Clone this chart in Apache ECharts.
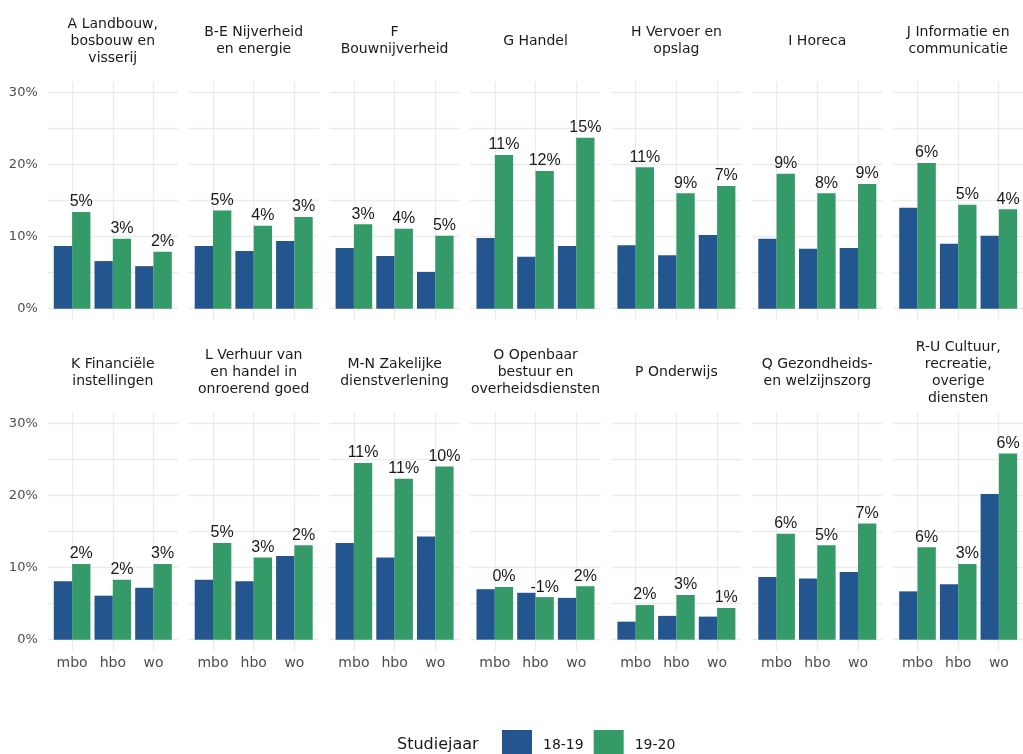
<!DOCTYPE html>
<html>
<head>
<meta charset="utf-8">
<script src="https://cdn.jsdelivr.net/npm/echarts@6/dist/echarts.min.js"></script>
<style>
html,body{margin:0;padding:0;background:#fff;}
#chart{width:1023px;height:754px;}
</style>
</head>
<body>
<div id="chart"></div>
<script>
// ---- data ----
const categories = ['mbo', 'hbo', 'wo'];
const sectors = [
  'A Landbouw,\nbosbouw en\nvisserij',
  'B-E Nijverheid\nen energie',
  'F\nBouwnijverheid',
  'G Handel',
  'H Vervoer en\nopslag',
  'I Horeca',
  'J Informatie en\ncommunicatie',
  'K Financiële\ninstellingen',
  'L Verhuur van\nen handel in\nonroerend goed',
  'M-N Zakelijke\ndienstverlening',
  'O Openbaar\nbestuur en\noverheidsdiensten',
  'P Onderwijs',
  'Q Gezondheids-\nen welzijnszorg',
  'R-U Cultuur,\nrecreatie,\noverige\ndiensten'
];
const years = ['18-19', '19-20'];
const values1819 = [
  [8.7, 6.6, 5.9],
  [8.7, 8.0, 9.4],
  [8.4, 7.3, 5.1],
  [9.8, 7.2, 8.7],
  [8.8, 7.4, 10.2],
  [9.7, 8.3, 8.4],
  [14.0, 9.0, 10.1],
  [8.1, 6.1, 7.2],
  [8.3, 8.1, 11.6],
  [13.4, 11.4, 14.3],
  [7.0, 6.5, 5.8],
  [2.5, 3.3, 3.2],
  [8.7, 8.5, 9.4],
  [6.7, 7.7, 20.2]
];
const values1920 = [
  [13.4, 9.7, 7.9],
  [13.6, 11.5, 12.7],
  [11.7, 11.1, 10.1],
  [21.3, 19.1, 23.7],
  [19.6, 16.0, 17.0],
  [18.7, 16.0, 17.3],
  [20.2, 14.4, 13.8],
  [10.5, 8.3, 10.5],
  [13.4, 11.4, 13.1],
  [24.5, 22.3, 24.0],
  [7.3, 5.9, 7.4],
  [4.8, 6.2, 4.4],
  [14.7, 13.1, 16.1],
  [12.8, 10.5, 25.8]
];
const diffLabels = [
  [5, 3, 2],
  [5, 4, 3],
  [3, 4, 5],
  [11, 12, 15],
  [11, 9, 7],
  [9, 8, 9],
  [6, 5, 4],
  [2, 2, 3],
  [5, 3, 2],
  [11, 11, 10],
  [0, -1, 2],
  [2, 3, 1],
  [6, 5, 7],
  [6, 3, 6]
];
const yTicks = [0, 10, 20, 30];
const yGridLines = [0, 5, 10, 15, 20, 25, 30];
const xGridLines = [1, 2, 3];

// ---- layout / style ----
const colors = ['#23568f', '#349a68'];
const nCols = 7;
const panelLeft0 = 47.7, panelStep = 140.9, panelW = 130.2;
const rowTops = [81.5, 412.5], panelH = 238;
const rowTitleCenter = [41, 372.5];
const yMin = 0, yMax = 30, yExp = 1.5;
const xUnit = panelW / 3.2;

const grids = [], xAxes = [], yAxes = [], series = [], titles = [];
let gi = 0;

sectors.forEach((name, p) => {
  const col = p % nCols, row = Math.floor(p / nCols);
  const pl = panelLeft0 + col * panelStep;
  const pt = rowTops[row];
  // background grid (full panel) for gridlines
  grids.push({ left: pl, top: pt, width: panelW, height: panelH, containLabel: false });
  xAxes.push({ type: 'value', gridIndex: gi, min: 0.4, max: 3.6, show: false });
  yAxes.push({ type: 'value', gridIndex: gi, min: yMin - yExp, max: yMax + yExp, show: false });
  const lineStyle = { color: '#ebebeb', width: 1.3, type: 'solid' };
  series.push({
    type: 'line', xAxisIndex: gi, yAxisIndex: gi, data: [], silent: true, z: 0, zlevel: 0,
    markLine: {
      silent: true, symbol: 'none', animation: false, z: 0, zlevel: 0,
      label: { show: false },
      lineStyle: lineStyle,
      emphasis: { disabled: true },
      data: yGridLines.map(v => ({ yAxis: v })).concat(xGridLines.map(v => ({ xAxis: v })))
    }
  });
  gi++;
  // data grid
  const dh = panelH * (yMax - yMin) / (yMax - yMin + 2 * yExp);
  grids.push({ left: pl + 0.1 * xUnit, top: pt + panelH * yExp / (yMax - yMin + 2 * yExp), width: 3 * xUnit, height: dh });
  xAxes.push({
    type: 'category', gridIndex: gi, data: categories,
    axisLine: { show: false }, axisTick: { show: false }, splitLine: { show: false },
    axisLabel: { show: row === 1, margin: 17, color: '#4d4d4d', fontSize: 14, fontFamily: 'DejaVu Sans' }
  });
  yAxes.push({
    type: 'value', gridIndex: gi, min: yMin, max: yMax, interval: 10,
    axisLine: { show: false }, axisTick: { show: false }, splitLine: { show: false },
    axisLabel: { show: col === 0, margin: 14, color: '#4d4d4d', fontSize: 13, fontFamily: 'DejaVu Sans', formatter: '{value}%' }
  });
  series.push({
    name: years[0], type: 'bar', xAxisIndex: gi, yAxisIndex: gi, z: 5, zlevel: 1,
    data: values1819[p], barWidth: '45%', barGap: '0%',
    itemStyle: { color: colors[0] }, animation: false
  });
  series.push({
    name: years[1], type: 'bar', xAxisIndex: gi, yAxisIndex: gi, z: 5, zlevel: 1,
    data: values1920[p], barWidth: '45%', barGap: '0%',
    itemStyle: { color: colors[1] }, animation: false,
    label: {
      show: true, position: 'top', distance: 2,
      fontFamily: 'Liberation Sans', fontSize: 16, color: '#1a1a1a',
      textBorderWidth: 0,
      formatter: (prm) => diffLabels[p][prm.dataIndex] + '%'
    }
  });
  gi++;
  // strip title
  const nLines = name.split('\n').length;
  const lh = 17;
  titles.push({
    text: name, left: pl + panelW / 2, top: rowTitleCenter[row] - nLines * lh / 2,
    textAlign: 'center', padding: 0,
    textStyle: { fontFamily: 'DejaVu Sans', fontSize: 14, fontWeight: 'normal', color: '#1a1a1a', lineHeight: lh }
  });
});

titles.push({
  text: 'Studiejaar', left: 397, top: 736, padding: 0,
  textStyle: { fontFamily: 'DejaVu Sans', fontSize: 16, fontWeight: 'normal', color: '#1a1a1a', lineHeight: 18 }
});

const chart = echarts.init(document.getElementById('chart'), null, { renderer: 'canvas' });
chart.setOption({
  animation: false,
  backgroundColor: '#ffffff',
  title: titles,
  legend: {
    data: years, left: 502, top: 730, orient: 'horizontal',
    icon: 'rect', itemWidth: 30, itemHeight: 30, itemGap: 10, padding: 0,
    selectedMode: false,
    textStyle: { fontFamily: 'DejaVu Sans', fontSize: 14, color: '#1a1a1a', padding: [0, 0, 0, 6] }
  },
  grid: grids,
  xAxis: xAxes,
  yAxis: yAxes,
  series: series
});
</script>
</body>
</html>
